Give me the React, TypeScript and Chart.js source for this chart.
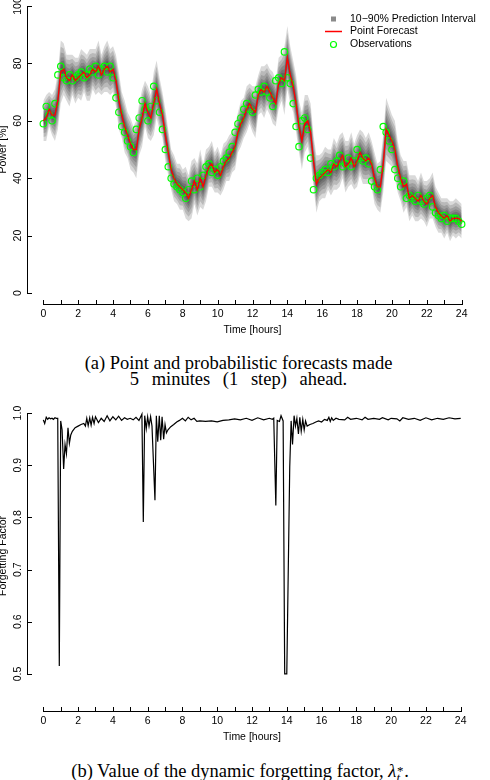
import { useEffect, useRef } from "react";
import { Chart, registerables } from "chart.js";

Chart.register(...registerables);

// ---- Data -----------------------------------------------------------------
// 10-minute steps over one day (0 .. 24 h)
const STEPS_PER_HOUR = 6;
const hours = Array.from({ length: 24 * STEPS_PER_HOUR + 1 }, (_, i) => i / STEPS_PER_HOUR);

// Measured power [%]
const observed = [
  59, 65, 62, 60, 66, 76,
  79, 75, 74, 76, 74, 75,
  76, 77, 75, 76, 78, 77,
  79, 76, 78, 79, 77, 79,
  75, 68, 63, 58, 56, 53,
  51, 49, 57, 61, 67, 64,
  60, 65, 72, 67, 63, 57,
  50, 44, 40, 38, 37, 36,
  35, 33, 36, 39, 36, 40,
  37, 41, 44, 45, 42, 43,
  41, 44, 46, 47, 49, 51,
  56, 59, 61, 64, 66, 64,
  63, 69, 71, 70, 72, 70,
  68, 65, 74, 75, 73, 84,
  75, 73, 66, 58, 51, 60,
  61, 57, 47, 36, 40, 41,
  42, 43, 42, 45, 44, 46,
  48, 44, 45, 47, 44, 46,
  50, 47, 46, 47, 45, 39,
  37, 36, 43, 58, 56, 53,
  50, 43, 40, 37, 39, 33,
  34, 33, 32, 34, 32, 31,
  33, 34, 30, 28, 27, 26,
  27, 25, 26, 26, 26, 25,
  24,
];

// One-step-ahead point forecast [%]
const forecast = [
  60, 61, 64, 62, 62, 67,
  77, 78, 75, 74, 76, 74,
  75, 76, 77, 75, 76, 78,
  77, 79, 76, 78, 79, 77,
  78, 74, 67, 62, 58, 55,
  52, 50, 50, 57, 61, 66,
  63, 61, 66, 71, 66, 62,
  55, 49, 43, 40, 38, 37,
  36, 35, 33, 36, 39, 36,
  40, 37, 41, 44, 45, 42,
  43, 41, 44, 46, 47, 49,
  51, 56, 59, 61, 64, 66,
  64, 63, 69, 71, 70, 72,
  70, 68, 66, 73, 75, 74,
  82, 76, 72, 66, 58, 53,
  59, 60, 56, 46, 38, 40,
  41, 42, 43, 42, 45, 44,
  46, 48, 44, 45, 47, 44,
  46, 49, 47, 46, 47, 45,
  40, 37, 37, 45, 57, 55,
  53, 50, 44, 40, 37, 38,
  33, 34, 33, 32, 34, 32,
  31, 33, 34, 30, 28, 27,
  26, 27, 25, 26, 26, 26,
  25,
];

// Half-width of the 10-90% prediction interval [%]
const spread = [
  7, 8, 6, 7, 9, 10,
  11, 9, 8, 9, 7, 8,
  7, 9, 7, 8, 9, 7,
  8, 9, 7, 8, 9, 8,
  8, 9, 10, 8, 9, 8,
  9, 8, 10, 9, 10, 8,
  9, 8, 11, 10, 9, 8,
  9, 8, 7, 8, 7, 8,
  7, 9, 8, 10, 8, 9,
  10, 8, 9, 7, 8, 7,
  8, 7, 8, 7, 8, 7,
  8, 7, 8, 7, 8, 7,
  8, 9, 7, 8, 9, 8,
  8, 9, 8, 9, 8, 12,
  11, 10, 9, 10, 9, 10,
  10, 9, 10, 9, 10, 8,
  8, 9, 7, 8, 9, 8,
  9, 8, 9, 8, 9, 8,
  9, 8, 9, 8, 9, 8,
  9, 8, 9, 10, 11, 10,
  9, 10, 9, 8, 9, 8,
  8, 7, 8, 7, 8, 7,
  8, 7, 8, 7, 7, 6,
  7, 6, 7, 6, 7, 6,
  6,
];

// Dynamic forgetting factor
const ffHours = [
  0.0, 0.08, 0.17, 0.25, 0.33, 0.42, 0.5, 0.58, 0.67, 0.75, 0.83, 0.92,
  1.0, 1.08, 1.17, 1.25, 1.33, 1.42, 1.5, 1.58, 1.67, 1.83,
  2.0, 2.17, 2.33, 2.42, 2.5, 2.58, 2.67, 2.75, 2.83, 2.92,
  3.0, 3.17, 3.33, 3.5, 3.67, 3.83, 4.0, 4.17, 4.33, 4.5, 4.67, 4.83,
  5.0, 5.17, 5.33, 5.5, 5.67, 5.75, 5.83, 5.92, 6.0, 6.08, 6.17, 6.25,
  6.42, 6.5, 6.58, 6.67, 6.75, 6.83, 6.92, 7.0, 7.08, 7.17, 7.33, 7.5,
  7.67, 7.83, 8.0, 8.17, 8.33, 8.5, 8.67, 8.83, 9.0, 9.33, 9.67, 10.0,
  10.33, 10.67, 11.0, 11.33, 11.67, 12.0, 12.33, 12.67, 13.0, 13.17, 13.25,
  13.37, 13.45, 13.58, 13.67, 13.79, 13.88, 14.0, 14.17, 14.25, 14.33,
  14.42, 14.5, 14.58, 14.67, 14.75, 14.83, 14.92, 15.0, 15.08, 15.17,
  15.33, 15.5, 15.67, 15.83, 16.0, 16.17, 16.33, 16.42, 16.5, 16.58,
  16.67, 16.83, 17.0, 17.33, 17.5, 17.67, 18.0, 18.33, 18.5, 18.67, 19.0,
  19.33, 19.5, 19.83, 20.0, 20.33, 20.5, 20.67, 21.0, 21.33, 21.67, 22.0,
  22.33, 22.67, 23.0, 23.33, 23.67, 24.0,
];
const ffValues = [
  0.987, 0.98, 0.992, 0.988, 0.991, 0.989, 0.99, 0.988, 0.991, 0.99, 0.99, 0.515,
  0.985, 0.968, 0.893, 0.94, 0.922, 0.972, 0.942, 0.958, 0.965, 0.972,
  0.975, 0.978, 0.98, 0.975, 0.99, 0.976, 0.991, 0.977, 0.992, 0.98,
  0.993, 0.982, 0.99, 0.984, 0.995, 0.985, 0.993, 0.987, 0.994, 0.986, 0.991, 0.988,
  0.99, 0.987, 0.992, 0.986, 0.998, 0.791, 0.995, 0.97, 0.993, 0.975, 0.993, 0.975,
  0.833, 0.995, 0.945, 0.995, 0.948, 0.993, 0.95, 0.978, 0.962, 0.968, 0.974, 0.978,
  0.983, 0.986, 0.99, 0.985, 0.992, 0.987, 0.99, 0.984, 0.985, 0.984, 0.985, 0.983,
  0.986, 0.987, 0.989, 0.987, 0.99, 0.986, 0.991, 0.987, 0.99, 0.988, 0.99,
  0.823, 0.986, 0.984, 0.995, 0.985, 0.5, 0.5, 0.897, 0.985, 0.94,
  0.995, 0.975, 0.99, 0.96, 0.992, 0.965, 0.988, 0.968, 0.985, 0.975,
  0.978, 0.98, 0.983, 0.985, 0.983, 0.988, 0.986, 0.992, 0.984, 0.991,
  0.986, 0.99, 0.988, 0.987, 0.992, 0.988, 0.99, 0.987, 0.992, 0.988, 0.99,
  0.988, 0.991, 0.987, 0.99, 0.989, 0.985, 0.991, 0.988, 0.99, 0.986, 0.991,
  0.987, 0.99, 0.988, 0.991, 0.989, 0.99,
];

// Axis ticks and labels
const hourTicks = Array.from({ length: 25 }, (_, i) => i);
const hourLabels = [0, 2, 4, 6, 8, 10, 12, 14, 16, 18, 20, 22, 24];
const powerTicks = [0, 20, 40, 60, 80, 100];
const ffTicks = [0.5, 0.6, 0.7, 0.8, 0.9, 1.0];
const legendLabels = ["10\u221290% Prediction Interval", "Point Forecast", "Observations"];

// Nested quantile bands that build up the grey fan
const bandLevels = [1, 0.8, 0.62, 0.46, 0.33, 0.22, 0.12];

// ---- Styling ----------------------------------------------------------------
const SANS = "'Liberation Sans', Arial, Helvetica, sans-serif";
const SERIF = "'Liberation Serif', 'Times New Roman', Times, serif";
const RED = "#ff0000";
const GREEN = "#00ff00";

// Base-graphics style axes: detached x axis, y axis spanning the tick range,
// inward tick marks and rotated y labels.
const rAxes = {
  id: "rAxes",
  afterDraw(chart: any, _args: any, o: any) {
    const { ctx, chartArea } = chart;
    const xs = chart.scales.x;
    const ys = chart.scales.y;
    const ax = Math.round(chartArea.left) + 0.5;
    const ay = Math.round(chartArea.bottom) - 0.5;
    ctx.save();
    ctx.strokeStyle = "#000";
    ctx.lineWidth = 1;
    ctx.beginPath();
    const xFirst = xs.getPixelForValue(o.xTicks[0]);
    const xLast = xs.getPixelForValue(o.xTicks[o.xTicks.length - 1]);
    ctx.moveTo(Math.round(xFirst), ay);
    ctx.lineTo(Math.round(xLast) + 1, ay);
    for (const t of o.xTicks) {
      const px = Math.round(xs.getPixelForValue(t)) + 0.5;
      ctx.moveTo(px, ay);
      ctx.lineTo(px, ay - o.tick);
    }
    const yFirst = ys.getPixelForValue(o.yTicks[0]);
    const yLast = ys.getPixelForValue(o.yTicks[o.yTicks.length - 1]);
    ctx.moveTo(ax, Math.round(yFirst) + 1);
    ctx.lineTo(ax, Math.round(yLast));
    for (const v of o.yTicks) {
      const py = Math.round(ys.getPixelForValue(v)) + 0.5;
      ctx.moveTo(ax, py);
      ctx.lineTo(ax + o.tick, py);
    }
    ctx.stroke();

    ctx.fillStyle = "#000";
    ctx.font = `10.5px ${SANS}`;
    ctx.textAlign = "center";
    ctx.textBaseline = "middle";
    for (const t of o.xLabels) {
      ctx.fillText(String(t), xs.getPixelForValue(t), ay + 9.5);
    }
    ctx.fillText(o.xTitle, (chartArea.left + chartArea.right) / 2, ay + 26);
    o.yTicks.forEach((v: number, i: number) => {
      ctx.save();
      ctx.translate(ax - 9, ys.getPixelForValue(v));
      ctx.rotate(-Math.PI / 2);
      ctx.fillText(o.yLabels[i], 0, 0);
      ctx.restore();
    });
    ctx.save();
    ctx.translate(o.yTitleX, o.yTitleY);
    ctx.rotate(-Math.PI / 2);
    ctx.fillText(o.yTitle, 0, 0);
    ctx.restore();
    ctx.restore();
  },
};

// Legend in the upper right corner of the forecast panel
const rLegend = {
  id: "rLegend",
  afterDraw(chart: any, _args: any, o: any) {
    if (!o || !o.show) return;
    const { ctx } = chart;
    const rows = [19, 31.5, 44.5];
    const mx = 333.5;
    ctx.save();
    ctx.fillStyle = "#8a8a8a";
    ctx.fillRect(mx - 2.5, rows[0] - 2.5, 5, 5);
    ctx.strokeStyle = RED;
    ctx.lineWidth = 1.5;
    ctx.beginPath();
    ctx.moveTo(mx - 8.5, rows[1]);
    ctx.lineTo(mx + 8.5, rows[1]);
    ctx.stroke();
    ctx.strokeStyle = GREEN;
    ctx.lineWidth = 1.2;
    ctx.beginPath();
    ctx.arc(mx, rows[2], 3, 0, Math.PI * 2);
    ctx.stroke();
    ctx.fillStyle = "#000";
    ctx.font = `10.5px ${SANS}`;
    ctx.textAlign = "left";
    ctx.textBaseline = "middle";
    legendLabels.forEach((label, i) => ctx.fillText(label, 350, rows[i]));
    ctx.restore();
  },
};

function ForecastChart() {
  const ref = useRef<HTMLCanvasElement | null>(null);
  useEffect(() => {
    if (!ref.current) return;
    const bands = bandLevels.flatMap((k) => [
      {
        data: forecast.map((f, i) => ({ x: hours[i], y: f + spread[i] * k })),
        fill: "+1",
        backgroundColor: "rgba(0,0,0,0.15)",
        borderColor: "rgba(0,0,0,0)",
        borderWidth: 0,
        pointRadius: 0,
        order: 5,
      },
      {
        data: forecast.map((f, i) => ({ x: hours[i], y: f - spread[i] * k })),
        fill: false,
        borderColor: "rgba(0,0,0,0)",
        borderWidth: 0,
        pointRadius: 0,
        order: 5,
      },
    ]);
    const chart = new Chart(ref.current, {
      type: "line",
      data: {
        datasets: [
          ...bands,
          {
            data: observed.map((v, i) => ({ x: hours[i], y: v })),
            showLine: false,
            pointStyle: "circle",
            pointRadius: 3.2,
            pointBorderWidth: 1.2,
            pointBorderColor: GREEN,
            pointBackgroundColor: "rgba(0,0,0,0)",
            order: 2,
          },
          {
            data: forecast.map((v, i) => ({ x: hours[i], y: v })),
            borderColor: RED,
            borderWidth: 1.3,
            pointRadius: 0,
            tension: 0,
            fill: false,
            order: 1,
          },
        ] as any,
      },
      options: {
        animation: false,
        responsive: false,
        events: [],
        layout: { padding: { left: 26.6, right: 11.6, top: 6, bottom: 40.5 } },
        plugins: {
          legend: { display: false },
          tooltip: { enabled: false },
          rAxes: {
            xTicks: hourTicks,
            xLabels: hourLabels,
            yTicks: powerTicks,
            yLabels: powerTicks.map(String),
            xTitle: "Time [hours]",
            yTitle: "Power [%]",
            yTitleX: 3.5,
            yTitleY: 149.5,
            tick: 4.5,
          },
          rLegend: { show: true },
        } as any,
        scales: {
          x: { type: "linear", min: -0.96, max: 24.96, display: false },
          y: { type: "linear", min: -4, max: 100, display: false },
        },
      },
      plugins: [rAxes, rLegend],
    });
    return () => chart.destroy();
  }, []);
  return <canvas ref={ref} width={490} height={345} style={{ position: "absolute", left: 0, top: 0 }} />;
}

function ForgettingChart() {
  const ref = useRef<HTMLCanvasElement | null>(null);
  useEffect(() => {
    if (!ref.current) return;
    const chart = new Chart(ref.current, {
      type: "line",
      data: {
        datasets: [
          {
            data: ffValues.map((v, i) => ({ x: ffHours[i], y: v })),
            borderColor: "#000",
            borderWidth: 1.2,
            pointRadius: 0,
            tension: 0,
            fill: false,
          },
        ],
      },
      options: {
        animation: false,
        responsive: false,
        events: [],
        layout: { padding: { left: 26.6, right: 12.6, top: 11.6, bottom: 38.5 } },
        plugins: {
          legend: { display: false },
          tooltip: { enabled: false },
          rAxes: {
            xTicks: hourTicks,
            xLabels: hourLabels,
            yTicks: ffTicks,
            yLabels: ffTicks.map((v) => v.toFixed(1)),
            xTitle: "Time [hours]",
            yTitle: "Forgetting Factor",
            yTitleX: 3.5,
            yTitleY: 166,
            tick: 4.5,
          },
          rLegend: { show: false },
        } as any,
        scales: {
          x: { type: "linear", min: -0.96, max: 24.96, display: false },
          y: { type: "linear", min: 0.428, max: 1.022, display: false },
        },
      },
      plugins: [rAxes],
    });
    return () => chart.destroy();
  }, []);
  return <canvas ref={ref} width={490} height={360} style={{ position: "absolute", left: 0, top: 390 }} />;
}

const captionStyle: any = {
  position: "absolute",
  left: 0,
  fontFamily: SERIF,
  fontSize: "18.5px",
  lineHeight: "16px",
  textAlign: "center",
  color: "#000",
  whiteSpace: "nowrap",
};

export default function App() {
  return (
    <div style={{ position: "absolute", left: 0, top: 0, width: 490, height: 780, background: "#fff", overflow: "hidden" }}>
      <ForecastChart />
      <div style={{ ...captionStyle, top: 355, width: 477 }}>
        <div>(a) Point and probabilistic forecasts made</div>
        <div style={{ wordSpacing: "8px" }}>5 minutes (1 step) ahead.</div>
      </div>
      <ForgettingChart />
      <div style={{ ...captionStyle, top: 763, width: 480 }}>
        (b) Value of the dynamic forgetting factor, <i>λ</i>
        <span style={{ display: "inline-block", position: "relative", width: "0.42em", height: 0 }}>
          <span style={{ position: "absolute", left: "0.05em", top: "-0.93em", fontSize: "0.7em", lineHeight: 1 }}>*</span>
          <i style={{ position: "absolute", left: "0.02em", top: "-0.41em", fontSize: "0.7em", lineHeight: 1 }}>t</i>
        </span>
        .
      </div>
    </div>
  );
}
